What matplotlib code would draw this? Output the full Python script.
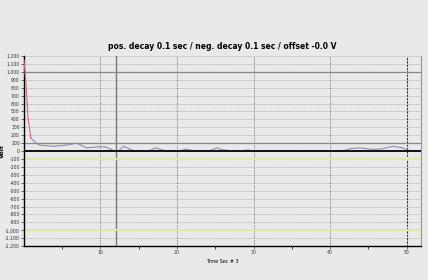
import matplotlib
matplotlib.use('Agg')
import matplotlib.pyplot as plt
from matplotlib.ticker import FuncFormatter

# decay curve (red) and measured signal (slate)
decay_x = [0, 0.13, 0.26, 0.52, 0.9]
decay_y = [1150, 1000, 860, 430, 165]

sig_x = [0.9, 1.6, 2.1, 3.8, 5.6, 6.9, 8.2, 9.9, 10.7, 11.2, 11.9, 12.4, 13.0, 13.6, 14.2,
         14.9, 15.8, 16.5, 17.2, 18.2, 19.1, 20.4, 21.2, 22.1, 23.0, 24.3, 25.2, 26.0,
         27.6, 28.6, 29.3, 29.9, 41.3, 42.0, 42.6, 43.9, 45.6, 46.9, 48.2, 49.5, 50.5, 51.9]
sig_y = [165, 100, 75, 60, 75, 100, 40, 55, 50, 30, 0, 5, 60, 35, 10,
         0, 0, 10, 40, 10, 0, 5, 25, 5, 0, 5, 40, 15,
         0, 5, 15, 0, 0, 10, 30, 40, 20, 30, 60, 40, 0, 0]

xticks = [10, 20, 30, 40, 50]
yticks = list(range(-1200, 1300, 100))

bg = '#e9e9e9'
fig = plt.figure(figsize=(4.28, 2.80), dpi=100, facecolor=bg)
ax = fig.add_axes([0.056, 0.121, 0.928, 0.679], facecolor=bg)

# grid
for v in yticks:
    ax.axhline(v, color='#a8a8a8', lw=0.6, ls=(0, (1, 1)), zorder=1)
for v in xticks:
    ax.axvline(v, color='#707070', lw=0.6, ls=(0, (1.5, 1.5)), zorder=1)
ax.axvline(50, color='#222222', lw=0.8, ls=(0, (1.5, 1.5)), zorder=1)
ax.axvline(12, color='#777777', lw=1.0, zorder=2)
for v in [1000, 100]:
    ax.axhline(v, color='#888888', lw=0.9, zorder=2)
for v in [-100, -1000]:
    ax.axhline(v, color='#dfe8a8', lw=1.6, zorder=2)

ax.plot(sig_x, sig_y, color='#8c8cb4', lw=0.8, zorder=3)
ax.plot(decay_x, decay_y, color='#c8707c', lw=0.8, zorder=4)
ax.axhline(0, color='#111111', lw=1.4, zorder=5)

ax.set_xlim(0, 51.9)
ax.set_ylim(-1200, 1200)
ax.set_xticks(xticks)
ax.set_xticks([5, 15, 25, 35, 45], minor=True)
ax.set_yticks(yticks)
ax.yaxis.set_major_formatter(FuncFormatter(lambda v, p: f'{int(v):,}'))
ax.tick_params(axis='both', labelsize=3.3, length=2, width=0.5, pad=1, colors='#333333')
ax.tick_params(axis='x', which='minor', length=2, width=0.5)

ax.spines['top'].set_visible(False)
ax.spines['right'].set_color('#999999')
ax.spines['left'].set_linewidth(1.0)
ax.spines['bottom'].set_linewidth(1.0)

ax.set_title('pos. decay 0.1 sec / neg. decay 0.1 sec / offset -0.0 V',
             fontsize=5.5, fontweight='bold', pad=5)
ax.set_xlabel('Time Sec # 3', fontsize=3.5, labelpad=3)
ax.set_ylabel('Volt', fontsize=4.5, fontweight='bold')
ax.yaxis.set_label_coords(-0.047, 0.5)

fig.savefig('out.png', dpi=100, facecolor=bg)
